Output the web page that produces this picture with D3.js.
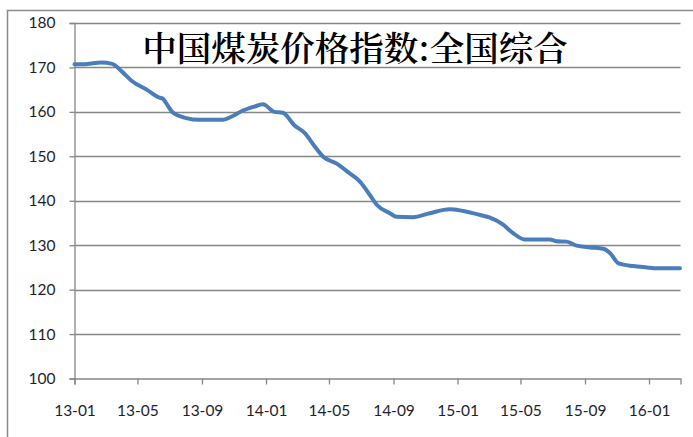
<!DOCTYPE html>
<html>
<head>
<meta charset="utf-8">
<script src="https://cdn.jsdelivr.net/npm/d3@7"></script>
<style>
  html, body { margin: 0; padding: 0; background: #fff; }
  svg { display: block; }
</style>
</head>
<body>
<svg id="chart" width="693" height="437"></svg>
<script>
// China coal price index, national composite
const title = "中国煤炭价格指数:全国综合";

const dates = [
  "2013-01-01", "2013-01-25", "2013-02-21", "2013-03-14", "2013-04-02", "2013-04-21",
  "2013-05-20", "2013-06-12", "2013-06-18", "2013-06-25", "2013-07-07", "2013-08-02",
  "2013-08-27", "2013-10-08", "2013-10-27", "2013-11-18", "2013-12-10", "2013-12-26",
  "2014-01-17", "2014-02-02", "2014-02-24", "2014-03-16", "2014-04-04", "2014-04-20",
  "2014-05-15", "2014-06-09", "2014-06-29", "2014-07-18", "2014-07-31", "2014-08-25",
  "2014-09-07", "2014-10-08", "2014-11-09", "2014-12-17", "2015-01-12", "2015-02-13",
  "2015-03-04", "2015-03-29", "2015-04-17", "2015-05-09", "2015-06-26", "2015-07-09",
  "2015-07-28", "2015-08-16", "2015-09-11", "2015-10-06", "2015-10-19", "2015-11-04",
  "2015-12-02", "2015-12-28", "2016-01-16", "2016-02-29"
];

const values = [
  170.7, 170.8, 171.1, 170.8, 169.0, 166.9,
  164.9, 163.2, 163.0, 161.9, 159.9, 158.6,
  158.2, 158.2, 158.9, 160.3, 161.2, 161.7,
  160.0, 159.8, 157.0, 155.2, 152.2, 149.9,
  148.4, 146.2, 144.3, 141.3, 139.1, 137.2,
  136.4, 136.3, 137.2, 138.1, 137.7, 136.8,
  136.2, 134.6, 132.7, 131.3, 131.3, 130.9,
  130.8, 129.9, 129.5, 129.2, 128.2, 125.9,
  125.3, 125.0, 124.8, 124.8
];

const yTicks = [100, 110, 120, 130, 140, 150, 160, 170, 180];
const xStart = "2013-01-01";
const xEnd = "2016-03-01";

const parse = d3.timeParse("%Y-%m-%d");
const data = dates.map((d, i) => ({ date: parse(d), value: values[i] }));

const svg = d3.select("#chart");
const gridColor = "#868686";
const textColor = "#1e1e2e";
const fontFamily = "Lato, 'Open Sans', 'DejaVu Sans', sans-serif";

const plot = { left: 74.5, right: 680.5, top: 23, bottom: 378.5 };

const x = d3.scaleTime()
  .domain([parse(xStart), parse(xEnd)])
  .range([plot.left, plot.right]);

const y = d3.scaleLinear()
  .domain([100, 180])
  .range([plot.bottom, plot.top]);

// outer chart frame (clipped at right and bottom)
svg.append("path")
  .attr("d", "M7.5,437 L7.5,10.5 L693,10.5")
  .attr("fill", "none")
  .attr("stroke", "#8a8a8a")
  .attr("stroke-width", 1.5);

// horizontal gridlines
svg.append("g")
  .selectAll("line")
  .data(yTicks.filter(t => t > 100))
  .join("line")
  .attr("x1", plot.left)
  .attr("x2", plot.right)
  .attr("y1", d => Math.round(y(d)) + 0.5)
  .attr("y2", d => Math.round(y(d)) + 0.5)
  .attr("stroke", gridColor)
  .attr("stroke-width", 1.3);

// y axis
const yAxis = svg.append("g")
  .attr("transform", `translate(${plot.left},0)`)
  .call(d3.axisLeft(y).tickValues(yTicks).tickSize(5).tickPadding(14).tickFormat(d3.format("d")));
yAxis.select(".domain").attr("stroke", gridColor).attr("stroke-width", 1.3);
yAxis.selectAll(".tick line").attr("stroke", gridColor).attr("stroke-width", 1.3);
yAxis.selectAll("text")
  .attr("fill", textColor)
  .style("font-family", fontFamily)
  .style("font-size", "15.5px");

// x axis
const xAxis = svg.append("g")
  .attr("transform", `translate(0,${plot.bottom})`)
  .call(d3.axisBottom(x)
    .ticks(d3.timeMonth.every(4))
    .tickSize(6)
    .tickPadding(20)
    .tickFormat(d3.timeFormat("%y-%m")));
xAxis.select(".domain").attr("stroke", gridColor).attr("stroke-width", 1.3);
xAxis.selectAll(".tick line").attr("stroke", gridColor).attr("stroke-width", 1.3);
xAxis.selectAll("text")
  .attr("fill", textColor)
  .style("font-family", fontFamily)
  .style("font-size", "15.5px");

// index line
const line = d3.line()
  .x(d => x(d.date))
  .y(d => y(d.value))
  .curve(d3.curveMonotoneX);

svg.append("path")
  .datum(data)
  .attr("d", line)
  .attr("fill", "none")
  .attr("stroke", "#4a7ebb")
  .attr("stroke-width", 4)
  .attr("stroke-linejoin", "round")
  .attr("stroke-linecap", "round");

// title
svg.append("text")
  .attr("x", 355)
  .attr("y", 61)
  .attr("text-anchor", "middle")
  .attr("fill", "#000")
  .style("font-family", "'Noto Serif CJK SC', 'Noto Sans CJK SC', serif")
  .style("font-size", "34.5px")
  .style("font-weight", "600")
  .text(title);
</script>
</body>
</html>
